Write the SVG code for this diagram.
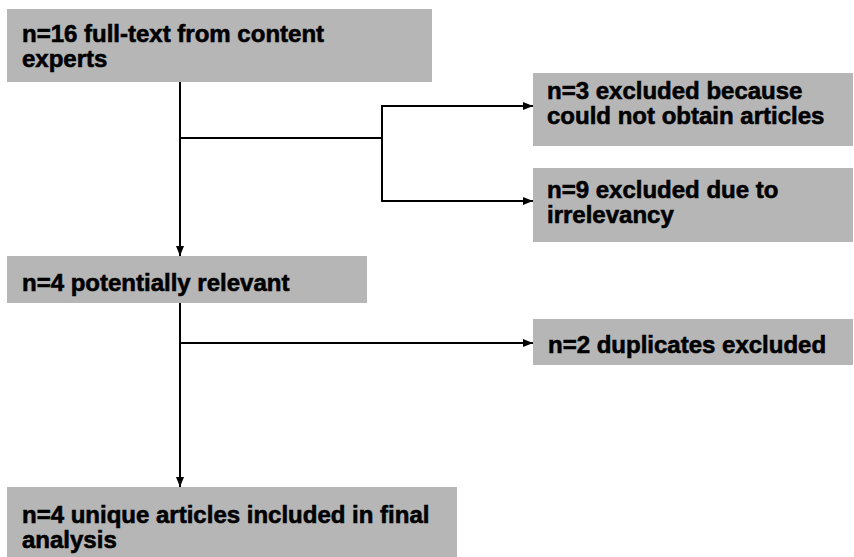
<svg xmlns="http://www.w3.org/2000/svg" width="854" height="557" viewBox="0 0 854 557">
<style>
.box{fill:#b6b6b6;stroke:none}
.t{font-family:"Liberation Sans",Arial,sans-serif;font-weight:bold;font-size:24px;fill:#000;stroke:#000;stroke-width:0.6}
.c{stroke:#000;stroke-width:2;fill:none}
</style>
<defs>
<marker id="ah" viewBox="0 0 10 10" refX="10" refY="5" markerWidth="10" markerHeight="10" markerUnits="userSpaceOnUse" orient="auto">
<path d="M0,1 L10,5 L0,9 z" fill="#000"/>
</marker>
</defs>
<rect width="854" height="557" fill="#fff"/>
<g id="n1"><rect class="box" x="7" y="9" width="425" height="73"/>
<text class="t" x="22" y="42">n=16 full-text from content</text>
<text class="t" x="22" y="67">experts</text></g>
<g id="n2"><rect class="box" x="533" y="73" width="320" height="73"/>
<text class="t" x="547" y="99">n=3 excluded because</text>
<text class="t" x="547" y="124">could not obtain articles</text></g>
<g id="n3"><rect class="box" x="533" y="168" width="320" height="74"/>
<text class="t" x="547" y="198">n=9 excluded due to</text>
<text class="t" x="547" y="223">irrelevancy</text></g>
<g id="n4"><rect class="box" x="7" y="256" width="360" height="47"/>
<text class="t" x="22" y="291">n=4 potentially relevant</text></g>
<g id="n5"><rect class="box" x="533" y="319" width="320" height="46"/>
<text class="t" x="548" y="353">n=2 duplicates excluded</text></g>
<g id="n6"><rect class="box" x="7" y="487" width="450" height="70"/>
<text class="t" x="22" y="523">n=4 unique articles included in final</text>
<text class="t" x="22" y="548">analysis</text></g>
<g id="connectors">
<line class="c" x1="180" y1="82" x2="180" y2="256" marker-end="url(#ah)"/>
<polyline class="c" points="180,138 382,138"/>
<polyline class="c" points="382,106 382,201"/>
<line class="c" x1="381" y1="106" x2="533" y2="106" marker-end="url(#ah)"/>
<line class="c" x1="381" y1="201" x2="533" y2="201" marker-end="url(#ah)"/>
<line class="c" x1="180" y1="303" x2="180" y2="487" marker-end="url(#ah)"/>
<line class="c" x1="180" y1="343" x2="533" y2="343" marker-end="url(#ah)"/>
</g>
</svg>
